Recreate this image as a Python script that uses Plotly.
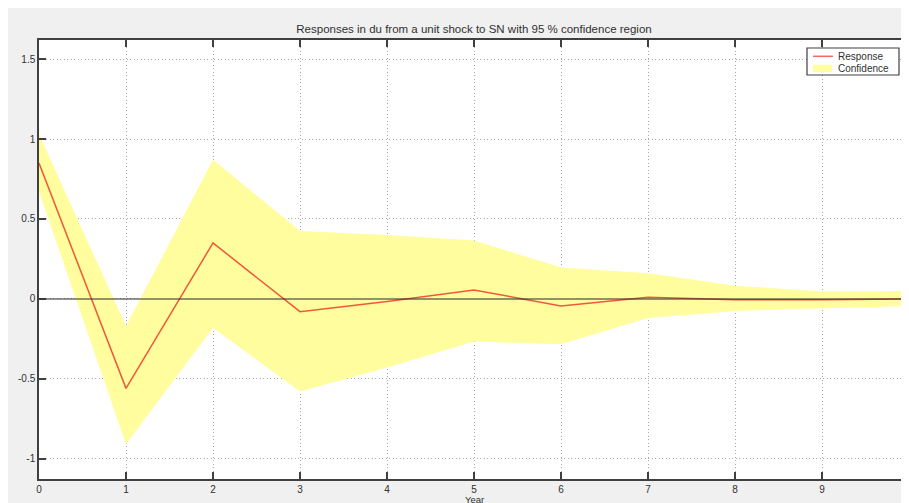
import plotly.graph_objects as go

years = [0, 1, 2, 3, 4, 5, 6, 7, 8, 9, 10]
response = [0.85, -0.56, 0.35, -0.08, -0.017, 0.056, -0.044, 0.01, -0.005, -0.005, 0.0]
upper = [1.03, -0.17, 0.87, 0.425, 0.40, 0.365, 0.196, 0.16, 0.083, 0.046, 0.05]
lower = [0.67, -0.91, -0.18, -0.58, -0.43, -0.267, -0.284, -0.12, -0.075, -0.058, -0.044]

ytick_vals = [-1, -0.5, 0, 0.5, 1, 1.5]
ytick_text = ["-1", "-0.5", "0", "0.5", "1", "1.5"]
xtick_vals = years
xtick_text = [str(v) for v in years]

title = "Responses in du from a unit shock to SN with 95 % confidence region"
xlabel = "Year"
legend_labels = ["Response", "Confidence"]

FONT = "Liberation Sans, Arial, sans-serif"
TXT = "#303030"
AX = "#404040"
FILL = "#fffd9e"
LINE = "rgb(240,88,58)"

# page is offset by the browser's 8px body margin
W, H = 901, 495
ml, mr, mt, mb = 31, 0, 32, 24
pw, ph = W - ml - mr, H - mt - mb


def px(xl):
    return (xl - ml) / pw


def py(yl):
    return (H - mb - yl) / ph


fig = go.Figure()
fig.add_trace(go.Scatter(x=years, y=lower, mode="lines", line=dict(width=0, color="rgba(0,0,0,0)"),
                         showlegend=False, hoverinfo="skip"))
fig.add_trace(go.Scatter(x=years, y=upper, mode="lines", line=dict(width=0, color="rgba(0,0,0,0)"),
                         fill="tonexty", fillcolor=FILL, name=legend_labels[1], showlegend=False))
fig.add_trace(go.Scatter(x=years, y=response, mode="lines", line=dict(width=1.5, color=LINE),
                         name=legend_labels[0], showlegend=False))

axis_common = dict(
    showline=True, linecolor=AX, linewidth=1.5, mirror="ticks",
    ticks="inside", ticklen=7, tickwidth=1.5, tickcolor=AX,
    showgrid=True, gridcolor="#a8a8a8", griddash="1px,2.5px", gridwidth=1,
    tickfont=dict(family=FONT, size=10, color=TXT),
    layer="above traces", zeroline=False, ticklabeloverflow="allow",
    automargin=False,
)

# legend box (pixel positions local to the figure)
lx0, lx1, ly0, ly1 = 799, 891, 40, 67
shapes = [
    dict(type="line", xref="paper", yref="y", x0=0, x1=1, y0=0, y1=0,
         line=dict(color="rgba(50,50,50,0.7)", width=1.5), layer="above"),
    dict(type="rect", xref="paper", yref="paper", x0=px(lx0), x1=px(lx1), y0=py(ly1), y1=py(ly0),
         fillcolor="white", line=dict(color=AX, width=1.2), layer="above"),
    dict(type="line", xref="paper", yref="paper", x0=px(805), x1=px(825), y0=py(48.3), y1=py(48.3),
         line=dict(color="rgb(250,100,100)", width=1.5), layer="above"),
    dict(type="rect", xref="paper", yref="paper", x0=px(805), x1=px(824), y0=py(64), y1=py(56.7),
         fillcolor=FILL, line=dict(width=0), layer="above"),
]
annotations = [
    dict(text=legend_labels[0], xref="paper", yref="paper", x=px(828), y=py(48.3), xanchor="left",
         yanchor="middle", showarrow=False, font=dict(family=FONT, size=10, color=TXT)),
    dict(text=legend_labels[1], xref="paper", yref="paper", x=px(828), y=py(60.5), xanchor="left",
         yanchor="middle", showarrow=False, font=dict(family=FONT, size=10, color=TXT)),
    dict(text=xlabel, xref="paper", yref="paper", x=0.5, y=py(485), xanchor="center",
         yanchor="top", showarrow=False, borderpad=0, font=dict(family=FONT, size=9.5, color=TXT)),
]

fig.update_layout(
    width=W, height=H,
    margin=dict(l=ml, r=mr, t=mt, b=mb, autoexpand=False),
    paper_bgcolor="#f0f0f0", plot_bgcolor="white",
    font=dict(family=FONT, size=10, color=TXT),
    title=dict(text=title, x=0.5, xref="paper", xanchor="center", y=1 - 21 / H, yanchor="middle",
               font=dict(size=11.5, color=TXT)),
    xaxis=dict(range=[0, 10], tickvals=xtick_vals, ticktext=xtick_text, **axis_common),
    yaxis=dict(range=[-1.127, 1.62], tickvals=ytick_vals, ticktext=ytick_text, **axis_common),
    showlegend=False,
    shapes=shapes,
    annotations=annotations,
)

fig.write_html("out.html")
